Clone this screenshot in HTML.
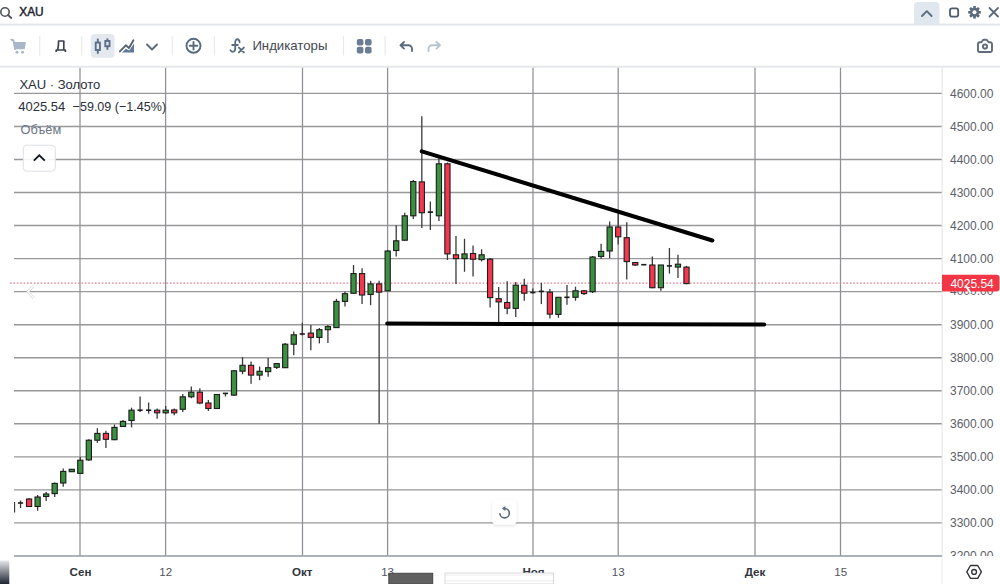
<!DOCTYPE html>
<html><head><meta charset="utf-8">
<style>
html,body{margin:0;padding:0;background:#fff;width:1000px;height:584px;overflow:hidden}
svg{position:absolute;left:0;top:0;display:block}
text{font-family:"Liberation Sans",sans-serif}
</style></head>
<body>
<svg width="1000" height="584" viewBox="0 0 1000 584">
<rect x="0" y="0" width="1000" height="584" fill="#fff"/>

<!-- top search bar -->
<circle cx="5" cy="12" r="4.2" fill="none" stroke="#50535e" stroke-width="1.6"/>
<line x1="8" y1="15" x2="11.3" y2="18" stroke="#50535e" stroke-width="1.8" stroke-linecap="round"/>
<text x="19.3" y="16.3" font-size="12.6" fill="#1e222d" stroke="#1e222d" stroke-width="0.45" textLength="24.4" lengthAdjust="spacingAndGlyphs">XAU</text>
<path d="M914 24.5 V6 a4 4 0 0 1 4 -4 H935.5 a4 4 0 0 1 4 4 V24.5 Z" fill="#e1e7ef"/>
<path d="M922 16 L926.8 11.2 L931.6 16" fill="none" stroke="#5b6b7e" stroke-width="1.9" stroke-linecap="round" stroke-linejoin="round"/>
<rect x="950" y="8.3" width="8.2" height="8.3" rx="2.2" fill="none" stroke="#4d5b6a" stroke-width="1.8"/>
<g transform="translate(974.5 12.3)" fill="#5b6b7e">
 <circle r="4.6"/>
 <rect x="-1.3" y="-6.3" width="2.6" height="12.6"/>
 <rect x="-1.3" y="-6.3" width="2.6" height="12.6" transform="rotate(45)"/>
 <rect x="-1.3" y="-6.3" width="2.6" height="12.6" transform="rotate(90)"/>
 <rect x="-1.3" y="-6.3" width="2.6" height="12.6" transform="rotate(135)"/>
 <circle r="2" fill="#fff"/>
</g>
<path d="M989.5 8 L998 16.5 M998 8 L989.5 16.5" stroke="#5b6b7e" stroke-width="1.8" stroke-linecap="round"/>
<rect x="0" y="23.6" width="1000" height="2" fill="#e4e7ec"/>

<!-- toolbar -->
<g fill="#a9b7c8">
 <path d="M13.6 42 H25.9 L24.7 49.2 H15.1 Z"/>
 <path d="M11.2 39.6 L13.4 40.3 L15.1 49" fill="none" stroke="#a9b7c8" stroke-width="1.9" stroke-linecap="round"/>
 <circle cx="17" cy="52.2" r="1.45"/><circle cx="22.5" cy="52.2" r="1.45"/>
</g>
<rect x="39.3" y="36" width="1" height="19.5" fill="#e3e6eb"/>
<path d="M57.6 50 C58.4 47 58.6 44 58.6 41 H63.8 V50 M56.2 52 V50 H65.4 V52" fill="none" stroke="#3d4450" stroke-width="1.7" stroke-linejoin="round"/>
<rect x="81.3" y="36" width="1" height="19.5" fill="#e3e6eb"/>
<rect x="90.6" y="34" width="24" height="23.8" rx="4" fill="#e4e9f0"/>
<g stroke="#5a6f8a" stroke-width="1.9" fill="none">
 <line x1="97.8" y1="38.6" x2="97.8" y2="53.8"/>
 <rect x="95.7" y="42.6" width="4.2" height="7.4" fill="#e4e9f0"/>
 <line x1="107.4" y1="38.4" x2="107.4" y2="49.8"/>
 <rect x="105.3" y="41" width="4.2" height="5.2" fill="#e4e9f0"/>
</g>
<path d="M122 52.6 L125.8 48.7 L129.2 50.5 L134 43.6 V52.6 Z" fill="#5d7a98"/>
<path d="M119.9 51.4 L125.8 45.3 L129 47.9 L133.4 40.3" fill="none" stroke="#59616d" stroke-width="1.9" stroke-linecap="round" stroke-linejoin="round"/>
<path d="M147 44.5 L152 49.5 L157 44.5" fill="none" stroke="#5b6b7e" stroke-width="1.9" stroke-linecap="round" stroke-linejoin="round"/>
<rect x="171.7" y="36" width="1" height="19.5" fill="#e3e6eb"/>
<circle cx="193.5" cy="45.8" r="7" fill="none" stroke="#5b6b7e" stroke-width="1.9"/>
<path d="M193.5 42 V49.6 M189.7 45.8 H197.3" stroke="#5b6b7e" stroke-width="1.9" stroke-linecap="round"/>
<rect x="213.8" y="36" width="1" height="19.5" fill="#e3e6eb"/>
<path d="M239.6 42.4 C239.8 39.8 237.4 38.4 235.9 40 C235.3 40.7 235.2 41.8 235.2 43 V49 C235.2 52 231.6 52.8 230.4 50.2 M232.2 45 H237.8" fill="none" stroke="#5b6b7e" stroke-width="1.8" stroke-linecap="round"/>
<path d="M238.9 47.6 L243.9 52.4 M243.9 47.6 L238.9 52.4" stroke="#5b6b7e" stroke-width="1.9" stroke-linecap="round"/>
<text x="252.4" y="50.3" font-size="13.1" fill="#434853" textLength="75" lengthAdjust="spacingAndGlyphs">Индикаторы</text>
<rect x="343.1" y="36" width="1" height="19.5" fill="#e3e6eb"/>
<g fill="#6b7d92">
 <rect x="356.8" y="39" width="6.6" height="6.6" rx="2"/>
 <rect x="365" y="39" width="6.6" height="6.6" rx="2"/>
 <rect x="356.8" y="46.8" width="6.6" height="6.6" rx="2"/>
 <rect x="365" y="46.8" width="6.6" height="6.6" rx="2"/>
</g>
<rect x="384.6" y="36" width="1" height="19.5" fill="#e3e6eb"/>
<path d="M404 42 L400.5 45.3 L404 48.6 M400.8 45.3 H408.5 a3.5 3.5 0 0 1 3.5 3.5 V51" fill="none" stroke="#5b6b7e" stroke-width="1.9" stroke-linecap="round" stroke-linejoin="round"/>
<path d="M436.5 42 L440 45.3 L436.5 48.6 M439.7 45.3 H432 a3.5 3.5 0 0 0 -3.5 3.5 V51" fill="none" stroke="#b9c4d1" stroke-width="1.9" stroke-linecap="round" stroke-linejoin="round"/>
<g fill="none" stroke="#5f6b78" stroke-width="1.9" stroke-linejoin="round">
 <path d="M978 44 a1.8 1.8 0 0 1 1.8 -1.8 h1.6 l1.5 -2 a1.4 1.4 0 0 1 1.1 -0.5 h2 a1.4 1.4 0 0 1 1.1 0.5 l1.5 2 h1.6 a1.8 1.8 0 0 1 1.8 1.8 v6.2 a1.8 1.8 0 0 1 -1.8 1.8 h-10.4 a1.8 1.8 0 0 1 -1.8 -1.8 Z"/>
 <circle cx="985" cy="46.6" r="2.1"/>
</g>
<rect x="0" y="65.8" width="1000" height="1.8" fill="#e4e7ec"/>

<!-- chart -->
<svg x="0" y="67.6" width="942" height="488.4" viewBox="0 67.6 942 488.4" overflow="hidden">
<line x1="14" y1="93.40" x2="942" y2="93.40" stroke="#98989a" stroke-width="1.4"/>
<line x1="14" y1="126.44" x2="942" y2="126.44" stroke="#98989a" stroke-width="1.4"/>
<line x1="14" y1="159.48" x2="942" y2="159.48" stroke="#98989a" stroke-width="1.4"/>
<line x1="14" y1="192.52" x2="942" y2="192.52" stroke="#98989a" stroke-width="1.4"/>
<line x1="14" y1="225.56" x2="942" y2="225.56" stroke="#98989a" stroke-width="1.4"/>
<line x1="14" y1="258.60" x2="942" y2="258.60" stroke="#98989a" stroke-width="1.4"/>
<line x1="14" y1="291.64" x2="942" y2="291.64" stroke="#98989a" stroke-width="1.4"/>
<line x1="14" y1="324.68" x2="942" y2="324.68" stroke="#98989a" stroke-width="1.4"/>
<line x1="14" y1="357.72" x2="942" y2="357.72" stroke="#98989a" stroke-width="1.4"/>
<line x1="14" y1="390.76" x2="942" y2="390.76" stroke="#98989a" stroke-width="1.4"/>
<line x1="14" y1="423.80" x2="942" y2="423.80" stroke="#98989a" stroke-width="1.4"/>
<line x1="14" y1="456.84" x2="942" y2="456.84" stroke="#98989a" stroke-width="1.4"/>
<line x1="14" y1="489.88" x2="942" y2="489.88" stroke="#98989a" stroke-width="1.4"/>
<line x1="14" y1="522.92" x2="942" y2="522.92" stroke="#98989a" stroke-width="1.4"/>
<line x1="14" y1="555.96" x2="942" y2="555.96" stroke="#98989a" stroke-width="1.4"/>
<line x1="80" y1="67.5" x2="80" y2="556" stroke="#8f9097" stroke-width="1.25"/>
<line x1="165.6" y1="67.5" x2="165.6" y2="556" stroke="#8f9097" stroke-width="1.25"/>
<line x1="302.5" y1="67.5" x2="302.5" y2="556" stroke="#8f9097" stroke-width="1.25"/>
<line x1="387.6" y1="67.5" x2="387.6" y2="556" stroke="#8f9097" stroke-width="1.25"/>
<line x1="533" y1="67.5" x2="533" y2="556" stroke="#8f9097" stroke-width="1.25"/>
<line x1="618.2" y1="67.5" x2="618.2" y2="556" stroke="#8f9097" stroke-width="1.25"/>
<line x1="755" y1="67.5" x2="755" y2="556" stroke="#8f9097" stroke-width="1.25"/>
<line x1="840.5" y1="67.5" x2="840.5" y2="556" stroke="#8f9097" stroke-width="1.25"/>
<line x1="10" y1="283.2" x2="942" y2="283.2" stroke="#e27d90" stroke-width="1.3" stroke-dasharray="1.6 1.8"/>
<g clip-path="url(#clipc)">
<line x1="14.5" y1="502" x2="14.5" y2="512.5" stroke="#3a3a3a" stroke-width="1.3"/>
<line x1="20.54" y1="500.5" x2="20.54" y2="508" stroke="#3a3a3a" stroke-width="1.3"/>
<line x1="17.94" y1="503" x2="23.14" y2="503" stroke="#1c1c1c" stroke-width="1.6"/>
<line x1="29.08" y1="498" x2="29.08" y2="507" stroke="#3a3a3a" stroke-width="1.3"/>
<rect x="26.48" y="499.00" width="5.2" height="7.50" fill="#f5364e" stroke="#1c1c1c" stroke-width="1.1"/>
<line x1="37.61" y1="495" x2="37.61" y2="510.8" stroke="#3a3a3a" stroke-width="1.3"/>
<rect x="35.01" y="497.00" width="5.2" height="9.50" fill="#3b913f" stroke="#1c1c1c" stroke-width="1.1"/>
<line x1="46.15" y1="492" x2="46.15" y2="501" stroke="#3a3a3a" stroke-width="1.3"/>
<rect x="43.55" y="494.00" width="5.2" height="2.50" fill="#3b913f" stroke="#1c1c1c" stroke-width="1.1"/>
<line x1="54.69" y1="482.5" x2="54.69" y2="497" stroke="#3a3a3a" stroke-width="1.3"/>
<rect x="52.09" y="483.40" width="5.2" height="10.20" fill="#3b913f" stroke="#1c1c1c" stroke-width="1.1"/>
<line x1="63.23" y1="468.5" x2="63.23" y2="486.8" stroke="#3a3a3a" stroke-width="1.3"/>
<rect x="60.63" y="471.40" width="5.2" height="11.60" fill="#3b913f" stroke="#1c1c1c" stroke-width="1.1"/>
<line x1="71.77" y1="469" x2="71.77" y2="472" stroke="#3a3a3a" stroke-width="1.3"/>
<rect x="69.17" y="469.30" width="5.2" height="2.40" fill="#3b913f" stroke="#1c1c1c" stroke-width="1.1"/>
<line x1="80.30" y1="457" x2="80.30" y2="474" stroke="#3a3a3a" stroke-width="1.3"/>
<rect x="77.70" y="460.20" width="5.2" height="13.20" fill="#3b913f" stroke="#1c1c1c" stroke-width="1.1"/>
<line x1="88.84" y1="439.3" x2="88.84" y2="460.8" stroke="#3a3a3a" stroke-width="1.3"/>
<rect x="86.24" y="440.20" width="5.2" height="19.70" fill="#3b913f" stroke="#1c1c1c" stroke-width="1.1"/>
<line x1="97.38" y1="428.2" x2="97.38" y2="442.8" stroke="#3a3a3a" stroke-width="1.3"/>
<rect x="94.78" y="433.40" width="5.2" height="6.80" fill="#3b913f" stroke="#1c1c1c" stroke-width="1.1"/>
<line x1="105.92" y1="430.8" x2="105.92" y2="447.9" stroke="#3a3a3a" stroke-width="1.3"/>
<rect x="103.32" y="433.40" width="5.2" height="5.90" fill="#f5364e" stroke="#1c1c1c" stroke-width="1.1"/>
<line x1="114.46" y1="424.5" x2="114.46" y2="440.2" stroke="#3a3a3a" stroke-width="1.3"/>
<rect x="111.86" y="427.40" width="5.2" height="12.30" fill="#3b913f" stroke="#1c1c1c" stroke-width="1.1"/>
<line x1="122.99" y1="420" x2="122.99" y2="427" stroke="#3a3a3a" stroke-width="1.3"/>
<rect x="120.39" y="421.40" width="5.2" height="5.10" fill="#3b913f" stroke="#1c1c1c" stroke-width="1.1"/>
<line x1="131.53" y1="407.7" x2="131.53" y2="427.4" stroke="#3a3a3a" stroke-width="1.3"/>
<rect x="128.93" y="410.20" width="5.2" height="10.30" fill="#3b913f" stroke="#1c1c1c" stroke-width="1.1"/>
<line x1="140.07" y1="396.5" x2="140.07" y2="412" stroke="#3a3a3a" stroke-width="1.3"/>
<line x1="137.47" y1="410.2" x2="142.67" y2="410.2" stroke="#1c1c1c" stroke-width="1.6"/>
<line x1="148.61" y1="402.5" x2="148.61" y2="413.7" stroke="#3a3a3a" stroke-width="1.3"/>
<line x1="146.01" y1="410.2" x2="151.21" y2="410.2" stroke="#1c1c1c" stroke-width="1.6"/>
<line x1="157.15" y1="408.5" x2="157.15" y2="418.8" stroke="#3a3a3a" stroke-width="1.3"/>
<rect x="154.55" y="410.20" width="5.2" height="2.60" fill="#f5364e" stroke="#1c1c1c" stroke-width="1.1"/>
<line x1="165.68" y1="406" x2="165.68" y2="414" stroke="#3a3a3a" stroke-width="1.3"/>
<rect x="163.08" y="410.20" width="5.2" height="2.60" fill="#3b913f" stroke="#1c1c1c" stroke-width="1.1"/>
<line x1="174.22" y1="408.5" x2="174.22" y2="415.3" stroke="#3a3a3a" stroke-width="1.3"/>
<rect x="171.62" y="409.90" width="5.2" height="2.90" fill="#f5364e" stroke="#1c1c1c" stroke-width="1.1"/>
<line x1="182.76" y1="394" x2="182.76" y2="411.9" stroke="#3a3a3a" stroke-width="1.3"/>
<rect x="180.16" y="396.80" width="5.2" height="12.50" fill="#3b913f" stroke="#1c1c1c" stroke-width="1.1"/>
<line x1="191.30" y1="386.6" x2="191.30" y2="398.2" stroke="#3a3a3a" stroke-width="1.3"/>
<rect x="188.70" y="392.20" width="5.2" height="4.60" fill="#3b913f" stroke="#1c1c1c" stroke-width="1.1"/>
<line x1="199.84" y1="388.3" x2="199.84" y2="404.2" stroke="#3a3a3a" stroke-width="1.3"/>
<rect x="197.24" y="392.20" width="5.2" height="10.80" fill="#f5364e" stroke="#1c1c1c" stroke-width="1.1"/>
<line x1="208.37" y1="400" x2="208.37" y2="411" stroke="#3a3a3a" stroke-width="1.3"/>
<rect x="205.77" y="403.00" width="5.2" height="5.50" fill="#f5364e" stroke="#1c1c1c" stroke-width="1.1"/>
<line x1="216.91" y1="394" x2="216.91" y2="409" stroke="#3a3a3a" stroke-width="1.3"/>
<rect x="214.31" y="394.50" width="5.2" height="14.00" fill="#3b913f" stroke="#1c1c1c" stroke-width="1.1"/>
<line x1="225.45" y1="393.4" x2="225.45" y2="396.5" stroke="#3a3a3a" stroke-width="1.3"/>
<line x1="222.85" y1="393.4" x2="228.05" y2="393.4" stroke="#1c1c1c" stroke-width="1.6"/>
<line x1="233.99" y1="370" x2="233.99" y2="396" stroke="#3a3a3a" stroke-width="1.3"/>
<rect x="231.39" y="370.80" width="5.2" height="24.30" fill="#3b913f" stroke="#1c1c1c" stroke-width="1.1"/>
<line x1="242.53" y1="357.1" x2="242.53" y2="374.2" stroke="#3a3a3a" stroke-width="1.3"/>
<rect x="239.93" y="365.30" width="5.2" height="5.90" fill="#3b913f" stroke="#1c1c1c" stroke-width="1.1"/>
<line x1="251.06" y1="361.4" x2="251.06" y2="383.7" stroke="#3a3a3a" stroke-width="1.3"/>
<rect x="248.46" y="365.30" width="5.2" height="9.80" fill="#f5364e" stroke="#1c1c1c" stroke-width="1.1"/>
<line x1="259.60" y1="366.5" x2="259.60" y2="380.2" stroke="#3a3a3a" stroke-width="1.3"/>
<rect x="257.00" y="371.30" width="5.2" height="3.80" fill="#3b913f" stroke="#1c1c1c" stroke-width="1.1"/>
<line x1="268.14" y1="357.9" x2="268.14" y2="376.7" stroke="#3a3a3a" stroke-width="1.3"/>
<rect x="265.54" y="367.70" width="5.2" height="3.90" fill="#3b913f" stroke="#1c1c1c" stroke-width="1.1"/>
<line x1="276.68" y1="363" x2="276.68" y2="369" stroke="#3a3a3a" stroke-width="1.3"/>
<rect x="274.08" y="363.60" width="5.2" height="3.70" fill="#3b913f" stroke="#1c1c1c" stroke-width="1.1"/>
<line x1="285.22" y1="343" x2="285.22" y2="368" stroke="#3a3a3a" stroke-width="1.3"/>
<rect x="282.62" y="344.20" width="5.2" height="23.50" fill="#3b913f" stroke="#1c1c1c" stroke-width="1.1"/>
<line x1="293.75" y1="331.4" x2="293.75" y2="355.3" stroke="#3a3a3a" stroke-width="1.3"/>
<rect x="291.15" y="334.80" width="5.2" height="9.40" fill="#3b913f" stroke="#1c1c1c" stroke-width="1.1"/>
<line x1="302.29" y1="322.8" x2="302.29" y2="335.6" stroke="#3a3a3a" stroke-width="1.3"/>
<line x1="299.69" y1="334" x2="304.89" y2="334" stroke="#1c1c1c" stroke-width="1.6"/>
<line x1="310.83" y1="324.9" x2="310.83" y2="350.2" stroke="#3a3a3a" stroke-width="1.3"/>
<rect x="308.23" y="333.10" width="5.2" height="4.30" fill="#f5364e" stroke="#1c1c1c" stroke-width="1.1"/>
<line x1="319.37" y1="328" x2="319.37" y2="343.4" stroke="#3a3a3a" stroke-width="1.3"/>
<rect x="316.77" y="329.70" width="5.2" height="7.70" fill="#3b913f" stroke="#1c1c1c" stroke-width="1.1"/>
<line x1="327.91" y1="324.9" x2="327.91" y2="343" stroke="#3a3a3a" stroke-width="1.3"/>
<rect x="325.31" y="326.60" width="5.2" height="3.10" fill="#3b913f" stroke="#1c1c1c" stroke-width="1.1"/>
<line x1="336.44" y1="298.8" x2="336.44" y2="328" stroke="#3a3a3a" stroke-width="1.3"/>
<rect x="333.84" y="301.40" width="5.2" height="26.20" fill="#3b913f" stroke="#1c1c1c" stroke-width="1.1"/>
<line x1="344.98" y1="291.6" x2="344.98" y2="306.5" stroke="#3a3a3a" stroke-width="1.3"/>
<rect x="342.38" y="293.70" width="5.2" height="7.70" fill="#3b913f" stroke="#1c1c1c" stroke-width="1.1"/>
<line x1="353.52" y1="265" x2="353.52" y2="293.8" stroke="#3a3a3a" stroke-width="1.3"/>
<rect x="350.92" y="273.60" width="5.2" height="19.70" fill="#3b913f" stroke="#1c1c1c" stroke-width="1.1"/>
<line x1="362.06" y1="268.2" x2="362.06" y2="304.1" stroke="#3a3a3a" stroke-width="1.3"/>
<rect x="359.46" y="273.60" width="5.2" height="21.40" fill="#f5364e" stroke="#1c1c1c" stroke-width="1.1"/>
<line x1="370.60" y1="280.8" x2="370.60" y2="305.2" stroke="#3a3a3a" stroke-width="1.3"/>
<rect x="368.00" y="283.90" width="5.2" height="10.60" fill="#3b913f" stroke="#1c1c1c" stroke-width="1.1"/>
<line x1="379.13" y1="280.8" x2="379.13" y2="423.8" stroke="#3a3a3a" stroke-width="1.3"/>
<rect x="376.53" y="283.90" width="5.2" height="8.20" fill="#f5364e" stroke="#1c1c1c" stroke-width="1.1"/>
<line x1="387.67" y1="250" x2="387.67" y2="291" stroke="#3a3a3a" stroke-width="1.3"/>
<rect x="385.07" y="251.00" width="5.2" height="39.80" fill="#3b913f" stroke="#1c1c1c" stroke-width="1.1"/>
<line x1="396.21" y1="225.3" x2="396.21" y2="256.5" stroke="#3a3a3a" stroke-width="1.3"/>
<rect x="393.61" y="240.80" width="5.2" height="9.70" fill="#3b913f" stroke="#1c1c1c" stroke-width="1.1"/>
<line x1="404.75" y1="212.8" x2="404.75" y2="241" stroke="#3a3a3a" stroke-width="1.3"/>
<rect x="402.15" y="215.80" width="5.2" height="24.40" fill="#3b913f" stroke="#1c1c1c" stroke-width="1.1"/>
<line x1="413.29" y1="179.9" x2="413.29" y2="218.9" stroke="#3a3a3a" stroke-width="1.3"/>
<rect x="410.69" y="181.50" width="5.2" height="34.30" fill="#3b913f" stroke="#1c1c1c" stroke-width="1.1"/>
<line x1="421.82" y1="116.2" x2="421.82" y2="228.1" stroke="#3a3a3a" stroke-width="1.3"/>
<rect x="419.22" y="181.90" width="5.2" height="30.80" fill="#f5364e" stroke="#1c1c1c" stroke-width="1.1"/>
<line x1="430.36" y1="201.4" x2="430.36" y2="230" stroke="#3a3a3a" stroke-width="1.3"/>
<line x1="427.76" y1="212.1" x2="432.96" y2="212.1" stroke="#1c1c1c" stroke-width="1.6"/>
<line x1="438.90" y1="158.3" x2="438.90" y2="221" stroke="#3a3a3a" stroke-width="1.3"/>
<rect x="436.30" y="163.80" width="5.2" height="52.00" fill="#3b913f" stroke="#1c1c1c" stroke-width="1.1"/>
<line x1="447.44" y1="162.4" x2="447.44" y2="260" stroke="#3a3a3a" stroke-width="1.3"/>
<rect x="444.84" y="163.80" width="5.2" height="90.10" fill="#f5364e" stroke="#1c1c1c" stroke-width="1.1"/>
<line x1="455.98" y1="236" x2="455.98" y2="284" stroke="#3a3a3a" stroke-width="1.3"/>
<rect x="453.38" y="254.80" width="5.2" height="3.80" fill="#f5364e" stroke="#1c1c1c" stroke-width="1.1"/>
<line x1="464.51" y1="238.8" x2="464.51" y2="271.8" stroke="#3a3a3a" stroke-width="1.3"/>
<rect x="461.91" y="253.90" width="5.2" height="4.70" fill="#3b913f" stroke="#1c1c1c" stroke-width="1.1"/>
<line x1="473.05" y1="245.4" x2="473.05" y2="276.5" stroke="#3a3a3a" stroke-width="1.3"/>
<rect x="470.45" y="253.50" width="5.2" height="5.70" fill="#f5364e" stroke="#1c1c1c" stroke-width="1.1"/>
<line x1="481.59" y1="249.2" x2="481.59" y2="261.4" stroke="#3a3a3a" stroke-width="1.3"/>
<rect x="478.99" y="254.80" width="5.2" height="4.80" fill="#3b913f" stroke="#1c1c1c" stroke-width="1.1"/>
<line x1="490.13" y1="258" x2="490.13" y2="307.6" stroke="#3a3a3a" stroke-width="1.3"/>
<rect x="487.53" y="259.20" width="5.2" height="38.40" fill="#f5364e" stroke="#1c1c1c" stroke-width="1.1"/>
<line x1="498.67" y1="286.9" x2="498.67" y2="322.7" stroke="#3a3a3a" stroke-width="1.3"/>
<rect x="496.07" y="298.70" width="5.2" height="3.20" fill="#f5364e" stroke="#1c1c1c" stroke-width="1.1"/>
<line x1="507.20" y1="281.2" x2="507.20" y2="314.3" stroke="#3a3a3a" stroke-width="1.3"/>
<rect x="504.60" y="302.50" width="5.2" height="5.70" fill="#f5364e" stroke="#1c1c1c" stroke-width="1.1"/>
<line x1="515.74" y1="282" x2="515.74" y2="317" stroke="#3a3a3a" stroke-width="1.3"/>
<rect x="513.14" y="285.20" width="5.2" height="23.20" fill="#3b913f" stroke="#1c1c1c" stroke-width="1.1"/>
<line x1="524.28" y1="278.8" x2="524.28" y2="300.7" stroke="#3a3a3a" stroke-width="1.3"/>
<rect x="521.68" y="285.30" width="5.2" height="7.90" fill="#f5364e" stroke="#1c1c1c" stroke-width="1.1"/>
<line x1="532.82" y1="288.4" x2="532.82" y2="293.6" stroke="#3a3a3a" stroke-width="1.3"/>
<line x1="530.22" y1="292.5" x2="535.42" y2="292.5" stroke="#1c1c1c" stroke-width="1.6"/>
<line x1="541.36" y1="282.9" x2="541.36" y2="304.1" stroke="#3a3a3a" stroke-width="1.3"/>
<line x1="538.76" y1="291.4" x2="543.96" y2="291.4" stroke="#1c1c1c" stroke-width="1.6"/>
<line x1="549.89" y1="289" x2="549.89" y2="318.5" stroke="#3a3a3a" stroke-width="1.3"/>
<rect x="547.29" y="292.20" width="5.2" height="21.90" fill="#f5364e" stroke="#1c1c1c" stroke-width="1.1"/>
<line x1="558.43" y1="297" x2="558.43" y2="317.8" stroke="#3a3a3a" stroke-width="1.3"/>
<rect x="555.83" y="297.30" width="5.2" height="17.10" fill="#3b913f" stroke="#1c1c1c" stroke-width="1.1"/>
<line x1="566.97" y1="284.9" x2="566.97" y2="304.8" stroke="#3a3a3a" stroke-width="1.3"/>
<line x1="564.37" y1="297.3" x2="569.57" y2="297.3" stroke="#1c1c1c" stroke-width="1.6"/>
<line x1="575.51" y1="286.7" x2="575.51" y2="300.7" stroke="#3a3a3a" stroke-width="1.3"/>
<rect x="572.91" y="290.80" width="5.2" height="6.50" fill="#3b913f" stroke="#1c1c1c" stroke-width="1.1"/>
<line x1="584.05" y1="290" x2="584.05" y2="295" stroke="#3a3a3a" stroke-width="1.3"/>
<rect x="581.45" y="290.80" width="5.2" height="2.80" fill="#f5364e" stroke="#1c1c1c" stroke-width="1.1"/>
<line x1="592.58" y1="256" x2="592.58" y2="293" stroke="#3a3a3a" stroke-width="1.3"/>
<rect x="589.98" y="257.00" width="5.2" height="34.70" fill="#3b913f" stroke="#1c1c1c" stroke-width="1.1"/>
<line x1="601.12" y1="243.7" x2="601.12" y2="259.1" stroke="#3a3a3a" stroke-width="1.3"/>
<rect x="598.52" y="251.40" width="5.2" height="5.00" fill="#3b913f" stroke="#1c1c1c" stroke-width="1.1"/>
<line x1="609.66" y1="221.4" x2="609.66" y2="258.2" stroke="#3a3a3a" stroke-width="1.3"/>
<rect x="607.06" y="227.00" width="5.2" height="24.00" fill="#3b913f" stroke="#1c1c1c" stroke-width="1.1"/>
<line x1="618.20" y1="213.7" x2="618.20" y2="244.5" stroke="#3a3a3a" stroke-width="1.3"/>
<rect x="615.60" y="227.00" width="5.2" height="9.80" fill="#f5364e" stroke="#1c1c1c" stroke-width="1.1"/>
<line x1="626.74" y1="222.3" x2="626.74" y2="279.6" stroke="#3a3a3a" stroke-width="1.3"/>
<rect x="624.14" y="237.70" width="5.2" height="23.90" fill="#f5364e" stroke="#1c1c1c" stroke-width="1.1"/>
<line x1="635.27" y1="262" x2="635.27" y2="266" stroke="#3a3a3a" stroke-width="1.3"/>
<rect x="632.67" y="262.50" width="5.2" height="2.50" fill="#f5364e" stroke="#1c1c1c" stroke-width="1.1"/>
<line x1="641.21" y1="264.7" x2="646.41" y2="264.7" stroke="#1c1c1c" stroke-width="1.6"/>
<line x1="652.35" y1="256.5" x2="652.35" y2="288.2" stroke="#3a3a3a" stroke-width="1.3"/>
<rect x="649.75" y="265.00" width="5.2" height="22.70" fill="#f5364e" stroke="#1c1c1c" stroke-width="1.1"/>
<line x1="660.89" y1="265" x2="660.89" y2="290.8" stroke="#3a3a3a" stroke-width="1.3"/>
<rect x="658.29" y="265.00" width="5.2" height="22.70" fill="#3b913f" stroke="#1c1c1c" stroke-width="1.1"/>
<line x1="669.43" y1="247.9" x2="669.43" y2="273.6" stroke="#3a3a3a" stroke-width="1.3"/>
<line x1="666.83" y1="265.9" x2="672.03" y2="265.9" stroke="#1c1c1c" stroke-width="1.6"/>
<line x1="677.96" y1="254.8" x2="677.96" y2="277.9" stroke="#3a3a3a" stroke-width="1.3"/>
<rect x="675.36" y="264.20" width="5.2" height="2.90" fill="#3b913f" stroke="#1c1c1c" stroke-width="1.1"/>
<line x1="686.50" y1="265.9" x2="686.50" y2="284.2" stroke="#3a3a3a" stroke-width="1.3"/>
<rect x="683.90" y="267.10" width="5.2" height="16.50" fill="#f5364e" stroke="#1c1c1c" stroke-width="1.1"/>
</g>
<line x1="421.8" y1="151.4" x2="712.4" y2="240.5" stroke="#000" stroke-width="4" stroke-linecap="round"/>
<line x1="387.2" y1="323.6" x2="764.2" y2="324.6" stroke="#000" stroke-width="4" stroke-linecap="round"/>
</svg>
<defs><clipPath id="clipc"><rect x="14" y="67.6" width="928" height="488.4"/></clipPath></defs>

<!-- chart legend -->
<text x="19.4" y="88.8" font-size="13" fill="#2a2e39">XAU · Золото</text>
<text x="18.2" y="111.3" font-size="13" fill="#2a2e39">4025.54</text>
<text x="72.6" y="111.3" font-size="13" fill="#2a2e39" textLength="93.5" lengthAdjust="spacingAndGlyphs">−59.09 (−1.45%)</text>
<text x="20.5" y="133.8" font-size="12.8" fill="#6a7686">Объём</text>
<rect x="23.3" y="145.2" width="32" height="26" rx="3.5" fill="#fff" fill-opacity="0.9" stroke="#dde0e6" stroke-width="1"/>
<path d="M33.8 160.6 L39.3 155.3 L44.8 160.6" fill="none" stroke="#131722" stroke-width="1.9"/>

<!-- scroll-left ghost chevron -->
<path d="M33.5 285.8 L28 291.8 L33.5 297.8" fill="none" stroke="#d0d0d0" stroke-width="2.6"/>
<path d="M33.5 285.8 L28 291.8 L33.5 297.8" fill="none" stroke="#fff" stroke-width="1.4"/>

<!-- price axis -->
<rect x="941.6" y="67.6" width="1" height="516.4" fill="#dfe3e9"/>
<g font-size="12" fill="#5c6069">
<text x="950" y="97.70">4600.00</text>
<text x="950" y="130.74">4500.00</text>
<text x="950" y="163.78">4400.00</text>
<text x="950" y="196.82">4300.00</text>
<text x="950" y="229.86">4200.00</text>
<text x="950" y="262.90">4100.00</text>
<text x="950" y="328.98">3900.00</text>
<text x="950" y="362.02">3800.00</text>
<text x="950" y="395.06">3700.00</text>
<text x="950" y="428.10">3600.00</text>
<text x="950" y="461.14">3500.00</text>
<text x="950" y="494.18">3400.00</text>
<text x="950" y="527.22">3300.00</text>
<text x="950" y="560.26">3200.00</text>
</g>
<text x="950" y="295.4" font-size="12" fill="#5c6069">4000.00</text>
<path d="M942 274.8 H996.5 a3 3 0 0 1 3 3 V288.6 a3 3 0 0 1 -3 3 H942 Z" fill="#f23645"/>
<text x="950.4" y="287.6" font-size="12" fill="#fff">4025.54</text>
<path d="M966 286 L970.2 292.6" stroke="#c8c8c8" stroke-width="2.4" stroke-linecap="round"/><path d="M966 286 L970.2 292.6" stroke="#fff" stroke-width="1.2" stroke-linecap="round"/>
<rect x="942.6" y="556" width="57.4" height="28" fill="#fff"/>
<path d="M966.8 571.9 L970.5 565.5 H977.7 L981.4 571.9 L977.7 578.3 H970.5 Z" fill="none" stroke="#2f3238" stroke-width="1.35" stroke-linejoin="round"/>
<circle cx="974.1" cy="571.9" r="2.4" fill="none" stroke="#2f3238" stroke-width="1.35"/>

<!-- time axis -->
<rect x="14" y="555.5" width="928" height="1.4" fill="#a3adb9"/>
<g font-size="11.6" fill="#50545e" text-anchor="middle">
 <text x="80.5" y="576.4" font-weight="bold" fill="#2f333d">Сен</text>
 <text x="165.8" y="576.4">12</text>
 <text x="302.3" y="576.4" font-weight="bold" fill="#2f333d">Окт</text>
 <text x="387.6" y="576.4">13</text>
 <text x="533.5" y="576.4" font-weight="bold" fill="#2f333d">Ноя</text>
 <text x="618.2" y="576.4">13</text>
 <text x="755" y="576.4" font-weight="bold" fill="#2f333d">Дек</text>
 <text x="840.8" y="576.4">15</text>
</g>

<!-- reset button -->
<rect x="492.4" y="499.8" width="24" height="25" rx="4" fill="#fff" filter="url(#sh)"/>
<defs><filter id="sh" x="-50%" y="-50%" width="200%" height="200%"><feDropShadow dx="0" dy="1" stdDeviation="1.6" flood-color="#000" flood-opacity="0.12"/></filter></defs>
<path d="M499.9 513.2 A4.7 4.7 0 1 0 504.6 508.5" fill="none" stroke="#5d6b7b" stroke-width="1.7"/>
<path d="M501.8 508.5 L505.4 506 L505.4 511 Z" fill="#5d6b7b"/>

<!-- bottom overlays -->
<defs><linearGradient id="lg" x1="0" y1="0" x2="0" y2="1"><stop offset="0" stop-color="#e6e7ea"/><stop offset="1" stop-color="#1f2430"/></linearGradient></defs>
<rect x="0" y="560.5" width="9.3" height="23.5" fill="url(#lg)"/>
<rect x="388.8" y="573.2" width="44" height="11" fill="#606060" stroke="#3a3a3a" stroke-width="0.8"/>
<rect x="445" y="573" width="108.5" height="11" fill="#fff" stroke="#c8c8c8" stroke-width="0.7"/>
<line x1="445" y1="575" x2="553.5" y2="575" stroke="#dadada" stroke-width="0.5"/>
<line x1="445" y1="580.8" x2="553.5" y2="580.8" stroke="#dadada" stroke-width="0.5"/>
</svg>
</body></html>
